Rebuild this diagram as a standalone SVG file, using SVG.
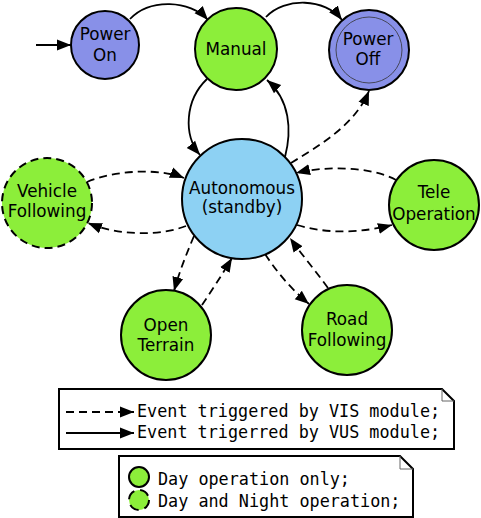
<svg xmlns="http://www.w3.org/2000/svg" width="481" height="518" viewBox="0 0 481 518">
<defs>
<marker id="ah" markerUnits="userSpaceOnUse" markerWidth="16" markerHeight="14" viewBox="0 0 16 14" refX="14" refY="7" orient="auto">
<path d="M0,1.5 L14,7 L0,12.5 Z" fill="#000"/>
</marker>
</defs>
<style>
.node{stroke:#000;stroke-width:2}
.blue{fill:#8890e8}
.green{fill:#8cee3a}
.sky{fill:#8dd1f3}
.lbl{font-family:"DejaVu Sans",sans-serif;font-size:16.8px;text-anchor:middle;fill:#000}
.mono{font-family:"DejaVu Sans Mono",monospace;font-size:16.8px;fill:#000}
.e{fill:none;stroke:#000;stroke-width:1.8;marker-end:url(#ah)}
.d{stroke-dasharray:8,5}
.box{fill:#fff;stroke:#000;stroke-width:2}
.fold{fill:none;stroke:#666;stroke-width:1}
</style>
<rect width="481" height="518" fill="#fff"/>
<g id="edges">
<path class="e" d="M36,45 L71,45"/>
<path class="e" d="M130,19 C150,-2 190,0 208,20"/>
<path class="e" d="M266,17 C285,-3 325,-2 342,20"/>
<path class="e" d="M207,79 C185,100 183,135 200,155"/>
<path class="e" d="M285,157 C292,130 290,100 267,80"/>
<path class="e d" d="M291,163 C320,145 355,125 369,91"/>
<path class="e d" d="M87,182 C115,170 160,168 184,178"/>
<path class="e d" d="M186,226 C160,236 120,236 88,223"/>
<path class="e d" d="M396,180 C370,166 325,166 296,173"/>
<path class="e d" d="M297,225 C330,235 365,232 392,225"/>
<path class="e d" d="M194,236 C186,255 180,270 174,291"/>
<path class="e d" d="M202,305 C212,290 222,275 232,258"/>
<path class="e d" d="M265,254 C277,272 290,288 309,304"/>
<path class="e d" d="M328,288 C315,270 302,255 290,238"/>
</g>
<g id="power-on">
<circle class="node blue" cx="105" cy="45" r="34"/>
<text class="lbl" x="105" y="40">Power</text>
<text class="lbl" x="105" y="61">On</text>
</g>
<g id="manual">
<circle class="node green" cx="236" cy="49" r="41"/>
<text class="lbl" x="236" y="55">Manual</text>
</g>
<g id="power-off">
<circle class="node blue" cx="369" cy="50" r="40"/>
<circle cx="369" cy="50" r="33" fill="none" stroke="#333" stroke-width="0.8"/>
<text class="lbl" x="368" y="45">Power</text>
<text class="lbl" x="368" y="65">Off</text>
</g>
<g id="autonomous">
<circle class="node sky" cx="242" cy="199" r="60"/>
<text class="lbl" x="242" y="194">Autonomous</text>
<text class="lbl" x="242" y="213">(standby)</text>
</g>
<g id="vehicle-following">
<circle class="node green" cx="47" cy="203" r="45" stroke-dasharray="8,5"/>
<text class="lbl" x="47" y="197">Vehicle</text>
<text class="lbl" x="47" y="217">Following</text>
</g>
<g id="tele-operation">
<circle class="node green" cx="434" cy="205" r="45"/>
<text class="lbl" x="434" y="198">Tele</text>
<text class="lbl" x="434" y="220">Operation</text>
</g>
<g id="open-terrain">
<circle class="node green" cx="166" cy="335" r="45"/>
<text class="lbl" x="166" y="331">Open</text>
<text class="lbl" x="166" y="351">Terrain</text>
</g>
<g id="road-following">
<circle class="node green" cx="347" cy="330" r="45"/>
<text class="lbl" x="347" y="325">Road</text>
<text class="lbl" x="347" y="346">Following</text>
</g>
<g id="legend-edges">
<path class="box" d="M59,389 L442,389 L454,401 L454,449 L59,449 Z"/>
<path class="fold" d="M442,389 L442,401 L454,401"/>
<path class="e d" d="M66,412 L134,412"/>
<path class="e" d="M66,433 L134,433"/>
<text class="mono" x="137" y="417">Event triggered by VIS module;</text>
<text class="mono" x="137" y="438">Event trigerred by VUS module;</text>
</g>
<g id="legend-nodes">
<path class="box" d="M119,456 L400,456 L413,469 L413,517 L119,517 Z"/>
<path class="fold" d="M400,456 L400,469 L413,469"/>
<circle class="node green" cx="139" cy="477" r="10"/>
<circle class="node green" cx="139" cy="500" r="10" stroke-dasharray="10,6"/>
<text class="mono" x="158" y="485">Day operation only;</text>
<text class="mono" x="158" y="507">Day and Night operation;</text>
</g>
</svg>
